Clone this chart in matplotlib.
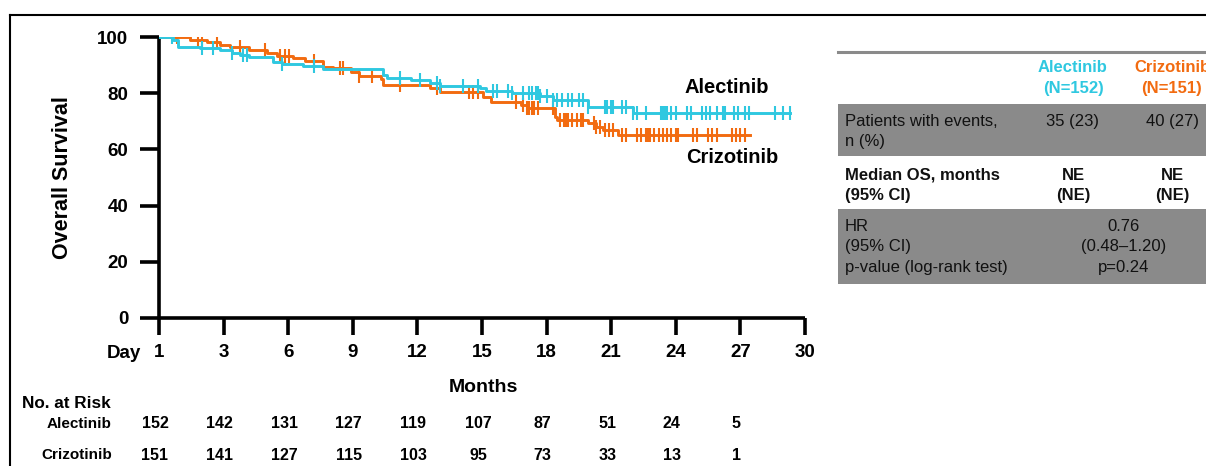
import numpy as np
import matplotlib
matplotlib.use("Agg")
import matplotlib.pyplot as plt
from matplotlib.lines import Line2D
from matplotlib.patches import Rectangle

plt.rcParams['font.family'] = ['Liberation Sans', 'DejaVu Sans']

ALEC_COLOR = '#2FC8E0'
CRIZ_COLOR = '#F26B10'
GREY = '#8A8A8A'

# Kaplan-Meier steps (months, % surviving)
alec_t = [0, 0.65, 0.88, 1.9, 2.83, 3.4, 3.76, 4.2, 5.3, 5.7, 6.7, 7.6, 10.4, 10.6,
          11.7, 12.6, 13.05, 14.9, 15.2, 16.4, 17.7, 18.3, 19.9, 22.0]
alec_s = [100, 98.9, 96.5, 96.2, 95.4, 94.4, 93.6, 92.8, 91.2, 90.3, 89.8, 88.6, 86.3, 85.3,
          84.7, 83.5, 82.7, 81.7, 80.8, 80.0, 79.0, 77.6, 75.2, 72.8]
alec_end = 29.3
alec_cens = [0.6, 2.0, 2.5, 3.4, 3.9, 4.1, 5.7, 7.2, 11.2, 12.1, 12.9, 13.05, 14.1, 14.8,
             15.5, 15.7, 16.2, 16.4, 16.9, 17.2, 17.3, 17.5, 17.6, 17.7, 18.0, 18.3, 18.5,
             18.7, 19.0, 19.2, 19.5, 19.7, 19.9, 20.7, 20.8, 21.0, 21.1, 21.5, 21.7, 22.0,
             22.2, 22.6, 23.3, 23.4, 23.5, 23.6, 23.8, 24.0, 24.5, 24.7, 25.2, 25.4, 25.6,
             25.9, 26.2, 26.3, 26.7, 26.9, 27.2, 27.4, 28.6, 29.0, 29.3]

criz_t = [0, 1.44, 2.23, 2.83, 3.3, 4.2, 5.0, 5.5, 6.23, 6.79, 7.6, 8.08, 8.9, 9.3, 10.3,
          10.4, 12.6, 13.05, 15.05, 15.4, 16.8, 17.1, 18.4, 18.5, 19.9, 20.3, 20.6, 21.3]
criz_s = [100, 98.9, 98.1, 97.2, 96.5, 95.4, 94.2, 93.3, 92.4, 91.5, 89.4, 88.9, 87.7, 86.2,
          85.1, 82.9, 81.7, 80.5, 78.8, 77.0, 75.8, 74.6, 71.6, 70.5, 69.3, 68.1, 66.9, 65.1]
criz_end = 27.45
criz_cens = [0.83, 1.8, 2.0, 2.7, 3.76, 4.9, 5.6, 5.85, 6.05, 7.2, 8.4, 8.55, 9.3, 9.9, 11.2,
             12.9, 14.4, 14.6, 14.8, 16.6, 16.9, 17.1, 17.2, 17.3, 17.4, 17.6, 18.3, 18.6,
             18.8, 18.9, 19.0, 19.2, 19.4, 19.6, 19.7, 20.2, 20.3, 20.5, 20.7, 20.9, 21.1,
             21.5, 21.7, 22.2, 22.4, 22.6, 22.7, 22.8, 23.0, 23.2, 23.4, 23.6, 23.8, 24.0,
             24.1, 24.8, 25.0, 25.5, 25.7, 25.9, 26.6, 26.8, 27.0, 27.2]

x_ticks = [0, 3, 6, 9, 12, 15, 18, 21, 24, 27, 30]
x_ticklabels = ['1', '3', '6', '9', '12', '15', '18', '21', '24', '27', '30']
y_ticks = [0, 20, 40, 60, 80, 100]

risk_alec = [152, 142, 131, 127, 119, 107, 87, 51, 24, 5]
risk_criz = [151, 141, 127, 115, 103, 95, 73, 33, 13, 1]

table_rows = [
    ('Patients with events,\nn (%)', '35 (23)', '40 (27)', 'normal'),
    ('Median OS, months\n(95% CI)', 'NE\n(NE)', 'NE\n(NE)', 'bold'),
    ('HR\n(95% CI)\np-value (log-rank test)', '0.76\n(0.48\u20131.20)\np=0.24', None, 'normal'),
]

W, H = 1206, 466
fig = plt.figure(figsize=(W / 100, H / 100), dpi=100)


def fx(px):
    return px / W


def fy(py):
    return 1 - py / H


ax = fig.add_axes([fx(159), fy(318), fx(805) - fx(159), fy(37) - fy(318)])


def km_line(t, s, end, cens, color):
    tt = list(t) + [end]
    ss = list(s) + [s[-1]]
    ax.step(tt, ss, where='post', color=color, lw=2.1, zorder=3)
    idx = np.searchsorted(np.array(t), np.array(cens), side='right') - 1
    cy = np.array(s)[idx]
    ax.plot(cens, cy, ls='none', marker='|', ms=9.5, mew=1.5, color=color, zorder=3)


km_line(criz_t, criz_s, criz_end, criz_cens, CRIZ_COLOR)
km_line(alec_t, alec_s, alec_end, alec_cens, ALEC_COLOR)

ax.set_xlim(0, 30)
ax.set_ylim(0, 100)
for side in ['top', 'right']:
    ax.spines[side].set_visible(False)
for side in ['left', 'bottom']:
    ax.spines[side].set_linewidth(2.6)
    ax.spines[side].set_capstyle('butt')
ax.set_xticks(x_ticks)
ax.set_xticklabels(x_ticklabels)
ax.set_yticks(y_ticks)
ax.tick_params(axis='both', direction='out', width=2.6, length=14, labelsize=13.5)
ax.tick_params(axis='x', length=12, pad=7)
ax.tick_params(axis='y', pad=8)
for lab in ax.get_xticklabels() + ax.get_yticklabels():
    lab.set_fontweight('bold')

fig.text(fx(141), fy(353), 'Day', ha='right', va='center', fontsize=13.5, fontweight='bold')

ax.text(24.4, 82.2, 'Alectinib', fontsize=14.5, fontweight='bold', ha='left', va='center')
ax.text(24.5, 57.0, 'Crizotinib', fontsize=14.5, fontweight='bold', ha='left', va='center')

fig.text(fx(62), fy(178), 'Overall Survival', rotation=90, ha='center', va='center',
         fontsize=15.5, fontweight='bold')
fig.text(fx(483), fy(387), 'Months', ha='center', va='center', fontsize=14, fontweight='bold')

# number at risk
fig.text(fx(22), fy(404), 'No. at Risk', ha='left', va='center', fontsize=12.3,
         fontweight='bold')
for name, counts, ypx in [('Alectinib', risk_alec, 424), ('Crizotinib', risk_criz, 455)]:
    fig.text(fx(112), fy(ypx), name, ha='right', va='center', fontsize=11,
             fontweight='bold')
    for m, n in zip(x_ticks, counts):
        xpx = 155 + m * (805 - 159) / 30
        fig.text(fx(xpx), fy(ypx), str(n), ha='center', va='center', fontsize=11.5,
                 fontweight='bold')

# summary table (the right column runs past the figure edge)
tx0 = 838
fig.add_artist(Line2D([fx(tx0), fx(W + 5)], [fy(52), fy(52)], color=GREY, lw=2.2))
fig.text(fx(1073), fy(67), 'Alectinib', color=ALEC_COLOR, ha='center', va='center',
         fontsize=12, fontweight='bold')
fig.text(fx(1073), fy(88), '(N=152)', color=ALEC_COLOR, ha='center', va='center',
         fontsize=12, fontweight='bold')
fig.text(fx(1172), fy(67), 'Crizotinib', color=CRIZ_COLOR, ha='center', va='center',
         fontsize=12, fontweight='bold')
fig.text(fx(1172), fy(88), '(N=151)', color=CRIZ_COLOR, ha='center', va='center',
         fontsize=12, fontweight='bold')

row_spans = [(104, 156), (158, 207), (209, 284)]
row_fill = [GREY, 'white', GREY]
for (label, a, c, weight), (y0, y1), fill in zip(table_rows, row_spans, row_fill):
    fig.add_artist(Rectangle((fx(tx0), fy(y1)), fx(W + 5) - fx(tx0), fy(y0) - fy(y1),
                             facecolor=fill, edgecolor='none', zorder=0))
    ytop = fy(y0 + 10)
    fig.text(fx(845), ytop, label, ha='left', va='top', fontsize=12, fontweight=weight,
             color='#111111', linespacing=1.45)
    if c is None:
        fig.text(fx(1124), ytop, a, ha='center', va='top', fontsize=12,
                 fontweight=weight, color='#111111', linespacing=1.45)
    else:
        fig.text(fx(1073), ytop, a, ha='center', va='top', fontsize=12,
                 fontweight=weight, color='#111111', linespacing=1.45)
        fig.text(fx(1172), ytop, c, ha='center', va='top', fontsize=12,
                 fontweight=weight, color='#111111', linespacing=1.45)

# outer frame
fig.add_artist(Line2D([fx(10), fx(W + 5)], [fy(15), fy(15)], color='black', lw=1.5))
fig.add_artist(Line2D([fx(10), fx(10)], [fy(15), fy(H + 5)], color='black', lw=1.5))

fig.savefig('out.png', dpi=100)
